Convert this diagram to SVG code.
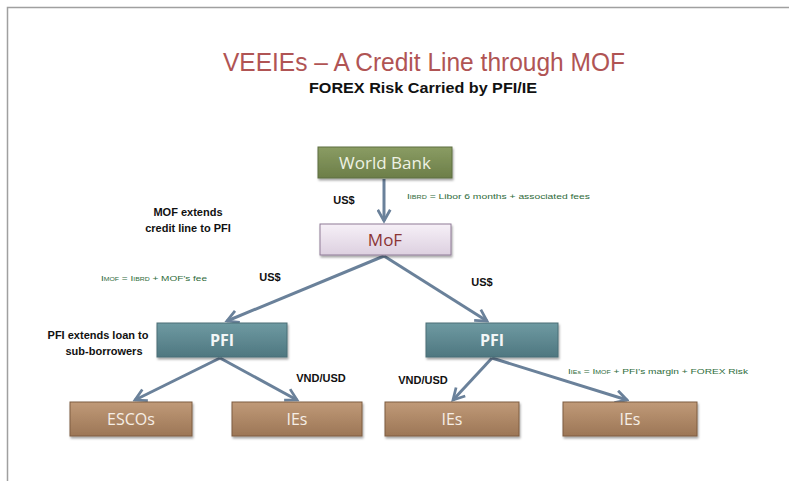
<svg xmlns="http://www.w3.org/2000/svg" width="789" height="481" viewBox="0 0 789 481">
<defs>
<linearGradient id="gGreen" x1="0" y1="0" x2="0" y2="1"><stop offset="0" stop-color="#8a9c63"/><stop offset="1" stop-color="#6c7e48"/></linearGradient>
<linearGradient id="gLav" x1="0" y1="0" x2="0" y2="1"><stop offset="0" stop-color="#f6f0f7"/><stop offset="1" stop-color="#ddd0e0"/></linearGradient>
<linearGradient id="gTeal" x1="0" y1="0" x2="0" y2="1"><stop offset="0" stop-color="#6e9aa2"/><stop offset="1" stop-color="#4f7780"/></linearGradient>
<linearGradient id="gBrown" x1="0" y1="0" x2="0" y2="1"><stop offset="0" stop-color="#c09a78"/><stop offset="1" stop-color="#9c7656"/></linearGradient>
<filter id="sh" x="-10%" y="-20%" width="120%" height="150%"><feDropShadow dx="1" dy="2" stdDeviation="1.2" flood-color="#000" flood-opacity="0.35"/></filter>
<marker id="arr" viewBox="0 0 12 12" refX="10" refY="6" markerWidth="5" markerHeight="5" orient="auto" markerUnits="strokeWidth">
<path d="M1,1 L10,6 L1,11" fill="none" stroke="#6a819a" stroke-width="2.2"/>
</marker>
</defs>
<style>
.box{stroke-width:1;filter:url(#sh)}
.nt{font-family:"Open Sans","Liberation Sans",sans-serif;text-anchor:middle}
.lbl{font-family:"Liberation Sans",sans-serif;font-weight:bold;font-size:11px;fill:#111;text-anchor:middle}
.note{font-family:"Liberation Sans",sans-serif;font-size:8px;fill:#2e6b3a}
.conn{stroke:#6a819a;stroke-width:3;fill:none;marker-end:url(#arr)}
</style>
<rect width="789" height="481" fill="#ffffff"/>
<path d="M7.5,481 V7.5 H789" fill="none" stroke="#a0a0a0" stroke-width="1.5"/>
<text x="424" y="71" font-family="'Liberation Sans',sans-serif" font-size="26" fill="#b05454" text-anchor="middle" textLength="402" lengthAdjust="spacingAndGlyphs">VEEIEs – A Credit Line through MOF</text>
<text x="423" y="93" font-family="'Liberation Sans',sans-serif" font-size="15" font-weight="bold" fill="#111" text-anchor="middle" textLength="228" lengthAdjust="spacingAndGlyphs">FOREX Risk Carried by PFI/IE</text>
<g id="connectors">
<line class="conn" x1="384" y1="179" x2="384" y2="221"/>
<line class="conn" x1="384" y1="256" x2="227" y2="321"/>
<line class="conn" x1="384" y1="256" x2="487" y2="321"/>
<line class="conn" x1="220" y1="358" x2="135" y2="400"/>
<line class="conn" x1="220" y1="358" x2="297" y2="400"/>
<line class="conn" x1="492" y1="358" x2="453" y2="400"/>
<line class="conn" x1="492" y1="358" x2="627" y2="400"/>
</g>
<g id="wb"><rect class="box" x="318" y="147" width="134" height="31" fill="url(#gGreen)" stroke="#5f6f40"/><text class="nt" x="385" y="169" font-size="17" fill="#eef2e4">World Bank</text></g>
<g id="mof"><rect class="box" x="320" y="224" width="131" height="31" fill="url(#gLav)" stroke="#8f7a96"/><text class="nt" x="385" y="246" font-size="17" fill="#8b3535">MoF</text></g>
<g id="pfi1"><rect class="box" x="157" y="323" width="130" height="34" fill="url(#gTeal)" stroke="#4a6e76"/><text class="nt" x="222" y="346" font-size="16" font-weight="bold" fill="#f2f6f7">PFI</text></g>
<g id="pfi2"><rect class="box" x="426" y="323" width="132" height="34" fill="url(#gTeal)" stroke="#4a6e76"/><text class="nt" x="492" y="346" font-size="16" font-weight="bold" fill="#f2f6f7">PFI</text></g>
<g id="escos"><rect class="box" x="70" y="402" width="122" height="34" fill="url(#gBrown)" stroke="#7e5c40"/><text class="nt" x="131" y="425" font-size="16" fill="#f6eee6">ESCOs</text></g>
<g id="ies1"><rect class="box" x="232" y="402" width="130" height="34" fill="url(#gBrown)" stroke="#7e5c40"/><text class="nt" x="297" y="425" font-size="16" fill="#f6eee6">IEs</text></g>
<g id="ies2"><rect class="box" x="385" y="402" width="134" height="34" fill="url(#gBrown)" stroke="#7e5c40"/><text class="nt" x="452" y="425" font-size="16" fill="#f6eee6">IEs</text></g>
<g id="ies3"><rect class="box" x="563" y="402" width="134" height="34" fill="url(#gBrown)" stroke="#7e5c40"/><text class="nt" x="630" y="425" font-size="16" fill="#f6eee6">IEs</text></g>
<g id="labels">
<text class="lbl" x="344" y="204">US$</text>
<text class="lbl" x="270" y="281">US$</text>
<text class="lbl" x="482" y="286">US$</text>
<text class="lbl" x="321" y="382">VND/USD</text>
<text class="lbl" x="423" y="384">VND/USD</text>
<text class="lbl" x="188" y="216" font-size="9.5">MOF extends</text>
<text class="lbl" x="188" y="232" font-size="9.5">credit line to PFI</text>
<text class="lbl" x="98" y="339" font-size="9.5">PFI extends loan to</text>
<text class="lbl" x="104" y="355" font-size="9.5">sub-borrowers</text>
<text class="note" x="407" y="199" textLength="183" lengthAdjust="spacingAndGlyphs">I<tspan font-size="5.5">IBRD</tspan> = Libor 6 months + associated fees</text>
<text class="note" x="101" y="281" textLength="106" lengthAdjust="spacingAndGlyphs">I<tspan font-size="5.5">MOF</tspan> = I<tspan font-size="5.5">IBRD</tspan> + MOF’s fee</text>
<text class="note" x="568" y="374" textLength="180" lengthAdjust="spacingAndGlyphs">I<tspan font-size="5.5">IEs</tspan> = I<tspan font-size="5.5">MOF</tspan> + PFI’s margin + FOREX Risk</text>
</g>
</svg>
